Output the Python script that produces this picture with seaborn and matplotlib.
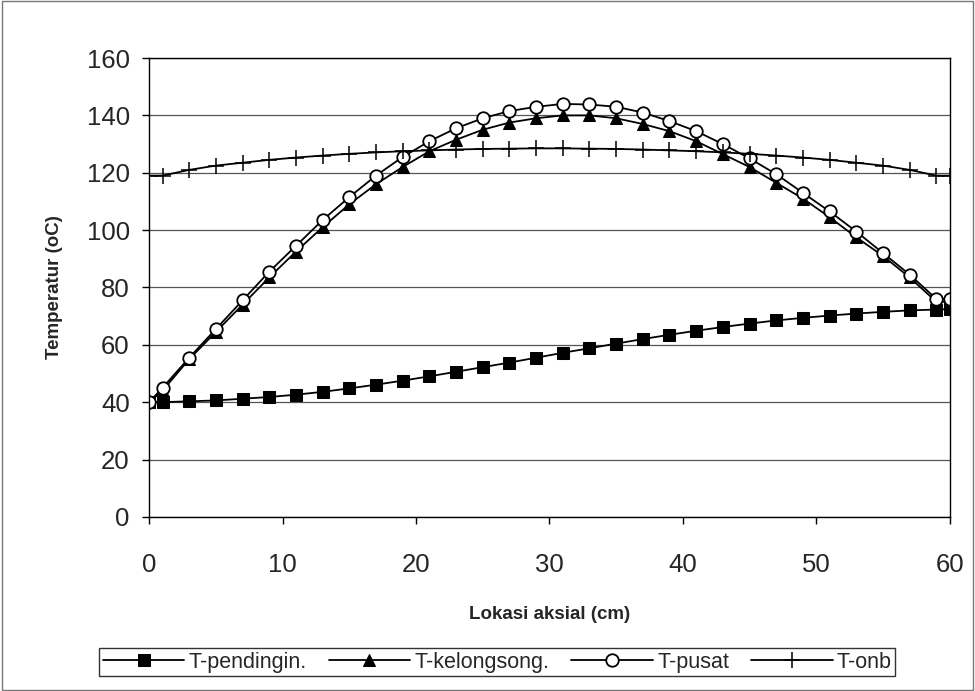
import matplotlib
matplotlib.use("Agg")
import matplotlib.pyplot as plt
import seaborn as sns
import pandas as pd

sns.set_theme(style="white")
plt.rcParams["font.family"] = ["Liberation Sans", "DejaVu Sans"]

# lokasi aksial (cm)
lokasi = [0, 1, 3, 5, 7, 9, 11, 13, 15, 17, 19, 21, 23, 25, 27, 29, 31,
          33, 35, 37, 39, 41, 43, 45, 47, 49, 51, 53, 55, 57, 59, 60]

t_pendingin = [40, 40, 40.3, 40.6, 41.2, 41.8, 42.6, 43.6, 44.8, 46.1, 47.5,
               49, 50.6, 52.2, 53.8, 55.5, 57.2, 58.8, 60.4, 62, 63.5, 64.9,
               66.2, 67.4, 68.5, 69.4, 70.2, 70.9, 71.5, 72, 72.3, 72.4]
t_kelongsong = [40, 44, 55, 64.5, 74, 83.5, 92.5, 101, 109, 116, 122, 127.5,
                131.5, 135, 137.5, 139, 140, 140, 139, 137, 134.5, 131, 126.5,
                122, 116.5, 111, 104.5, 97.5, 91, 83.5, 75, 75]
t_pusat = [40, 45, 55.5, 65.5, 75.5, 85.5, 94.5, 103.5, 111.5, 119, 125.5,
           131, 135.5, 139, 141.5, 143, 144, 143.8, 143, 141, 138, 134.5, 130,
           125, 119.5, 113, 106.5, 99.5, 92, 84.5, 76, 76]
t_onb = [119, 119, 121, 122.5, 123.5, 124.5, 125.3, 126, 126.6, 127.1, 127.5,
         127.8, 128.1, 128.3, 128.4, 128.5, 128.5, 128.4, 128.3, 128.1, 127.8,
         127.5, 127.1, 126.6, 126, 125.3, 124.5, 123.5, 122.5, 121, 119, 119]

df = pd.DataFrame({"lokasi": lokasi, "T-pendingin.": t_pendingin,
                   "T-kelongsong.": t_kelongsong, "T-pusat": t_pusat,
                   "T-onb": t_onb})

fig = plt.figure(figsize=(9.75, 6.91), dpi=100)
ax = fig.add_axes([0.153, 0.252, 0.821, 0.664])

sns.lineplot(data=df, x="lokasi", y="T-pendingin.", ax=ax, color="black",
             marker="s", markersize=9, markeredgecolor="black", lw=1.3,
             label="T-pendingin.")
sns.lineplot(data=df, x="lokasi", y="T-kelongsong.", ax=ax, color="black",
             marker="^", markersize=8, markeredgecolor="black", lw=1.3,
             label="T-kelongsong.")
sns.lineplot(data=df, x="lokasi", y="T-pusat", ax=ax, color="black",
             marker="o", markersize=9, markerfacecolor="white",
             markeredgecolor="black", markeredgewidth=1.3, lw=1.3,
             label="T-pusat")
sns.lineplot(data=df, x="lokasi", y="T-onb", ax=ax, color="black",
             marker="+", markersize=11, markeredgecolor="black",
             markeredgewidth=1.1, lw=1.3, label="T-onb")

ax.set_xlim(0, 60)
ax.set_ylim(0, 160)
ax.set_xticks(range(0, 61, 10))
ax.set_yticks(range(0, 161, 20))
ax.yaxis.grid(True, color="#555555", lw=0.9)
ax.set_axisbelow(True)
for s in ax.spines.values():
    s.set_color("black")
    s.set_linewidth(1.0)
ax.tick_params(axis="both", labelsize=18.5, direction="out", length=5,
               width=1, color="black", bottom=True, left=True)
ax.tick_params(axis="x", pad=21)
ax.tick_params(axis="y", pad=9)
ax.set_xlabel("Lokasi aksial (cm)", fontsize=13.5, fontweight="bold",
              labelpad=21)
ax.set_ylabel("Temperatur (oC)", fontsize=13.5, fontweight="bold",
              labelpad=17)

ax.get_legend().remove()
h, l = ax.get_legend_handles_labels()
leg = fig.legend(h, l, loc="lower center", bbox_to_anchor=(0.51, 0.022),
                 ncol=4, frameon=True, fancybox=False, edgecolor="black",
                 fontsize=15.5, handlelength=3.8, columnspacing=1.0,
                 handletextpad=0.2, borderpad=0.15, borderaxespad=0)
leg.get_frame().set_linewidth(1.0)

fig.patches.append(plt.Rectangle((0.002, 0.002), 0.996, 0.996,
                                 transform=fig.transFigure, fill=False,
                                 edgecolor="#777777", lw=1))

fig.savefig("out.png", dpi=100)
